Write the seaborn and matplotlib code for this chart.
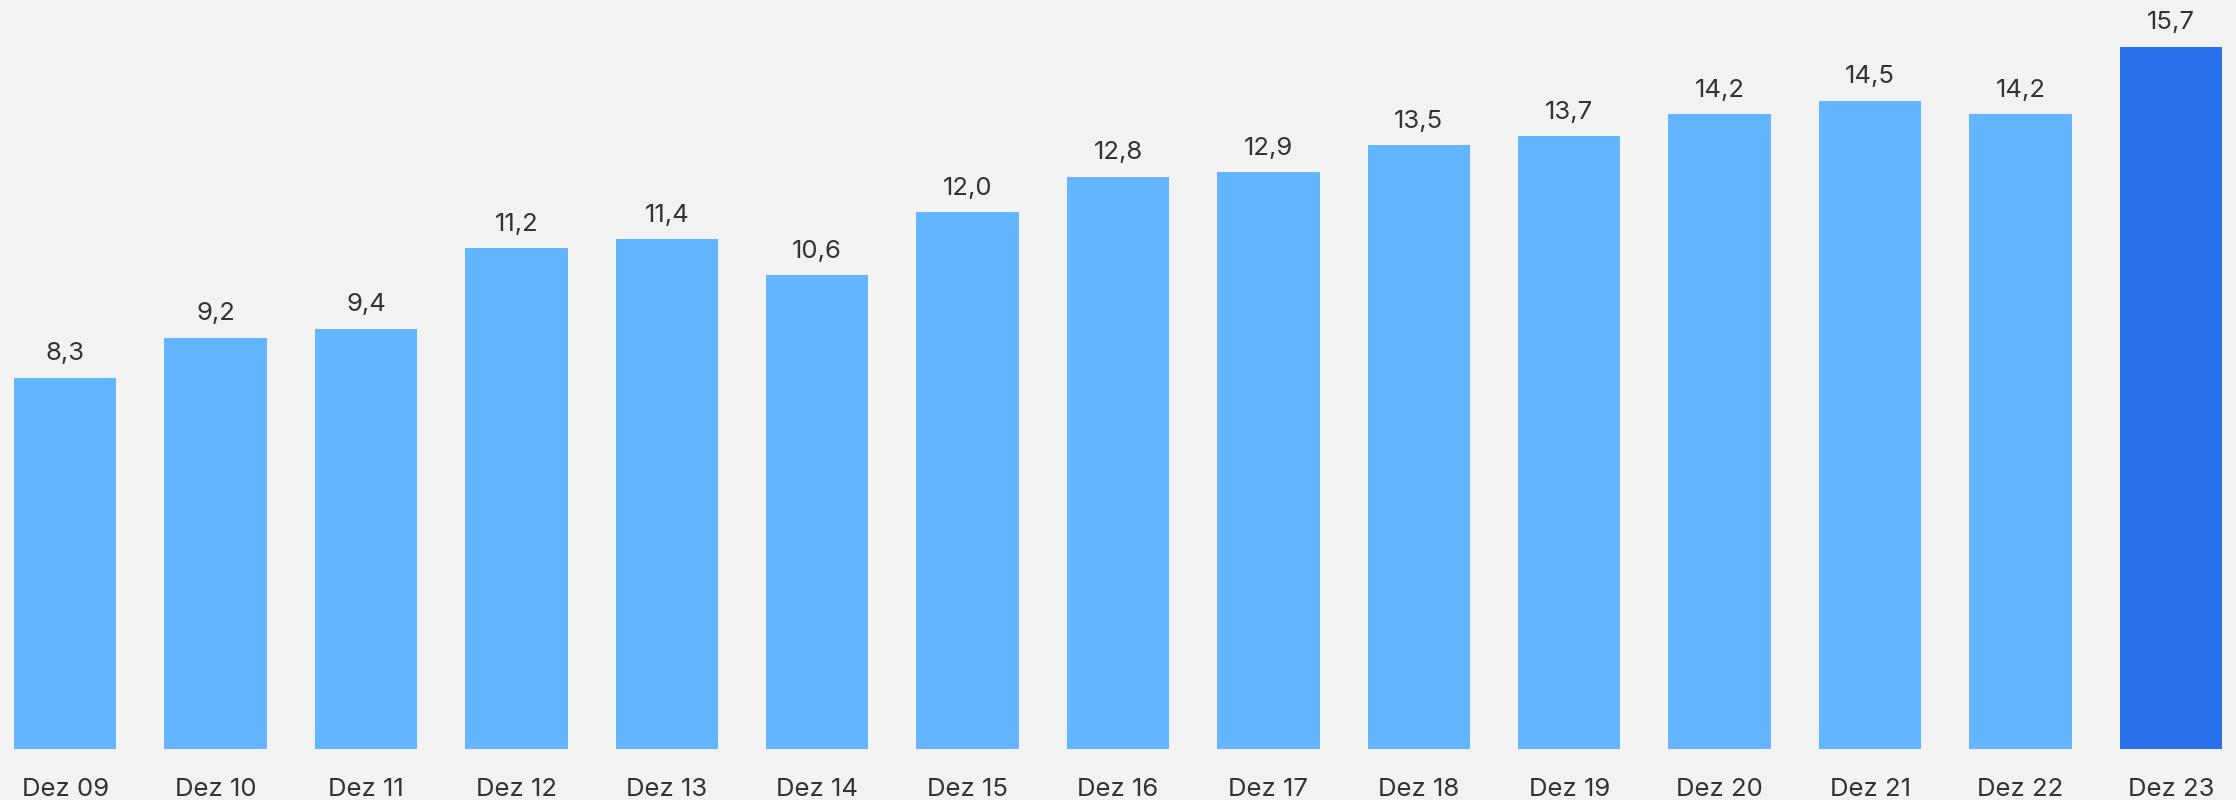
import matplotlib
matplotlib.use('Agg')
import matplotlib.pyplot as plt
import seaborn as sns

# data
labels = ['Dez 09', 'Dez 10', 'Dez 11', 'Dez 12', 'Dez 13', 'Dez 14', 'Dez 15', 'Dez 16',
          'Dez 17', 'Dez 18', 'Dez 19', 'Dez 20', 'Dez 21', 'Dez 22', 'Dez 23']
values = [8.3, 9.2, 9.4, 11.2, 11.4, 10.6, 12.0, 12.8, 12.9, 13.5, 13.7, 14.2, 14.5, 14.2, 15.7]
bar_colors = ['#64B5FF'] * 14 + ['#2970EB']

sns.set_style('white')
plt.rcParams['font.family'] = ['Inter', 'DejaVu Sans']

bg = '#F2F2F2'
fig = plt.figure(figsize=(22.36, 8), dpi=100, facecolor=bg)
ax = fig.add_axes([14 / 2236, 51 / 800, 2208 / 2236, 749 / 800])
ax.set_facecolor(bg)

w = 0.68
sns.barplot(x=labels, y=values, hue=labels, palette=bar_colors, legend=False,
            width=w, saturation=1, linewidth=0, ax=ax)

for c in ax.containers:
    ax.bar_label(c, labels=[f'{v:.1f}'.replace('.', ',') for v in c.datavalues],
                 padding=9, fontsize=18.5, color='#333333')

ax.set_xlim(-w / 2, len(labels) - 1 + w / 2)
ax.set_ylim(0, 16.75)
ax.set_yticks([])
ax.set_xlabel('')
ax.set_ylabel('')
ax.tick_params(axis='x', length=0, pad=21, labelsize=18.5, labelcolor='#333333')
sns.despine(ax=ax, left=True, bottom=True)

fig.savefig('out.png', dpi=100, facecolor=bg)
